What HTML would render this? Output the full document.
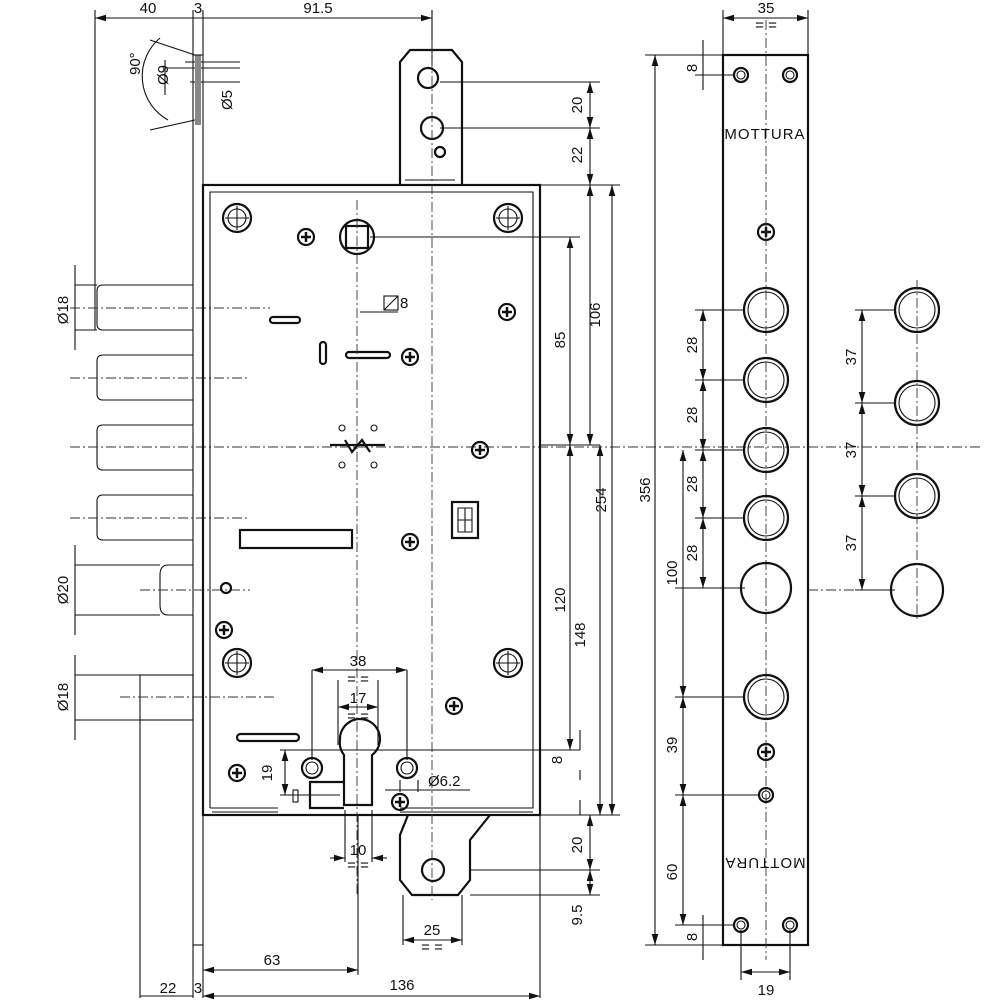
<!DOCTYPE html>
<html><head><meta charset="utf-8"><style>
html,body{margin:0;padding:0;background:#fff}
svg{display:block}
text{font-family:"Liberation Sans",sans-serif;font-size:15px;fill:#111}
.t{stroke:#111;stroke-width:1.1;fill:none}
.k{stroke:#111;stroke-width:2.2;fill:none}
.d{stroke:#333;stroke-width:0.9;fill:none;stroke-dasharray:10 3 2 3}
</style></head><body>
<svg width="1000" height="1000" viewBox="0 0 1000 1000" xmlns="http://www.w3.org/2000/svg">
<defs>
<marker id="a" viewBox="0 0 10 6" refX="10" refY="3" markerWidth="10" markerHeight="6" orient="auto-start-reverse"><path d="M0,0L10,3L0,6z" fill="#111"/></marker>
<g id="scr"><circle r="8" class="k" fill="#fff"/><path d="M-5,0H5M0,-5V5" stroke="#111" stroke-width="2.5"/></g>
<g id="hole"><circle r="14" class="k"/><circle r="9" class="t"/><path d="M-12,0H12M0,-12V12" class="t" stroke-width="0.6"/></g>
<g id="big"><circle r="22" class="k"/><circle r="18" class="t"/></g>
<g id="sm"><circle r="7" class="k"/><circle r="4" class="t"/></g>
</defs>

<!-- top dims -->
<path class="t" d="M95,18H432" marker-start="url(#a)" marker-end="url(#a)"/>
<path class="t" d="M95,10V330M193,10V55M203,10V55M432,10V65"/>
<text x="148" y="13" text-anchor="middle">40</text>
<text x="198" y="13" text-anchor="middle">3</text>
<text x="318" y="13" text-anchor="middle">91.5</text>

<!-- angle detail -->
<path class="t" d="M160,38 A50,50 0 0 0 168,120"/>
<path class="t" d="M195,55 L150,40 M195,120 L150,130 M165,60V95 M165,68H240 M190,82H240 M185,62H240"/>
<text x="140" y="75" transform="rotate(-90 140 75)" font-size="13">90°</text>
<text x="168" y="85" transform="rotate(-90 168 85)" font-size="13">Ø9</text>
<text x="232" y="110" transform="rotate(-90 232 110)" font-size="13">Ø5</text>
<rect x="195" y="55" width="6" height="70" fill="#888"/>

<!-- faceplate -->
<rect x="193" y="55" width="10" height="890" class="t"/>

<!-- bolts -->
<g class="t">
<path d="M193,285H103Q97,285 97,291V324Q97,330 103,330H193"/>
<path d="M193,355H103Q97,355 97,361V394Q97,400 103,400H193"/>
<path d="M193,425H103Q97,425 97,431V464Q97,470 103,470H193"/>
<path d="M193,495H103Q97,495 97,501V534Q97,540 103,540H193"/>
<path d="M193,565H168Q160,565 160,575V605Q160,615 168,615H193"/>
<rect x="140" y="675" width="53" height="45"/>
<path d="M75,285H97M75,330H97M75,565H160M75,615H160M75,675H140M75,720H140"/>
</g>
<path class="d" d="M70,308H270M70,378H250M70,447H980M70,518H250M140,590H250M120,697H275"/>
<path class="t" d="M75,265V350M75,545V635M75,655V740"/>
<text x="68" y="310" transform="rotate(-90 68 310)" text-anchor="middle" font-size="13">Ø18</text>
<text x="68" y="590" transform="rotate(-90 68 590)" text-anchor="middle" font-size="13">Ø20</text>
<text x="68" y="697" transform="rotate(-90 68 697)" text-anchor="middle" font-size="13">Ø18</text>

<!-- lock body -->
<rect x="203" y="185" width="337" height="630" class="k"/>
<path class="t" d="M210,808V192H533V808H400M210,808H278"/>
<path class="t" d="M212,812H278M400,812H533"/>

<!-- top tab -->
<path class="k" d="M400,185V62L410,50H452L462,62V185" fill="#fff"/>
<circle cx="428" cy="78" r="10" class="k"/>
<circle cx="432" cy="128" r="11" class="k"/>
<circle cx="440" cy="152" r="5" class="k"/>
<path class="t" d="M405,180H455"/>
<!-- bottom tab -->
<path class="k" d="M408,815L400,835V880L412,895H458L470,880V840L490,815" fill="#fff"/>
<circle cx="433" cy="870" r="11" class="k"/>

<!-- interior -->
<use href="#hole" x="237" y="218"/><use href="#hole" x="508" y="218"/>
<use href="#hole" x="237" y="663"/><use href="#hole" x="508" y="663"/>
<circle cx="357" cy="237" r="17" class="k"/><rect x="346" y="226" width="22" height="22" class="k" fill="#fff"/>
<use href="#scr" x="306" y="237"/><use href="#scr" x="507" y="312"/><use href="#scr" x="410" y="357"/>
<use href="#scr" x="480" y="450"/><use href="#scr" x="410" y="542"/><use href="#scr" x="224" y="630"/>
<use href="#scr" x="454" y="706"/><use href="#scr" x="237" y="773"/><use href="#scr" x="400" y="802"/>
<use href="#scr" x="766" y="232"/><use href="#scr" x="766" y="752"/>
<rect x="270" y="317" width="30" height="6" rx="3" class="k"/>
<rect x="320" y="342" width="6" height="22" rx="3" class="k"/>
<rect x="346" y="352" width="44" height="6" rx="3" class="k"/>
<path class="k" d="M330,445H385M345,440L352,452L362,440L370,452"/>
<circle cx="342" cy="428" r="3" class="t"/><circle cx="374" cy="428" r="3" class="t"/>
<circle cx="342" cy="465" r="3" class="t"/><circle cx="374" cy="465" r="3" class="t"/>
<rect x="240" y="530" width="112" height="18" class="k"/>
<rect x="452" y="502" width="26" height="36" class="k"/>
<path class="t" d="M458,508h14v24h-14z M465,508V532M458,520H472"/>
<circle cx="226" cy="588" r="5" class="k"/>
<rect x="237" y="734" width="62" height="7" rx="3.5" class="k"/>
<path class="k" d="M340,740A20,20 0 1 1 372,755V805H344V755A20,20 0 0 1 340,740Z" fill="#fff"/>
<path class="k" d="M344,782H310V808H344"/>
<rect x="293" y="790" width="5" height="12" class="t"/>
<circle cx="312" cy="768" r="10" class="k"/><circle cx="312" cy="768" r="6" class="t"/>
<circle cx="407" cy="768" r="10" class="k"/><circle cx="407" cy="768" r="6" class="t"/>
<path class="d" d="M357,200V895M432,40V900"/>

<!-- interior dims -->
<path class="t" d="M338,680V745M378,680V745M312,670V760M407,670V760"/>
<path class="t" d="M312,670H407" marker-start="url(#a)" marker-end="url(#a)"/>
<path class="t" d="M338,707H378" marker-start="url(#a)" marker-end="url(#a)"/>
<text x="358" y="666" text-anchor="middle">38</text>
<text x="358" y="703" text-anchor="middle">17</text>
<text x="358" y="684" text-anchor="middle" font-size="10">= =</text>
<text x="358" y="721" text-anchor="middle" font-size="10">= =</text>
<path class="t" d="M280,750H580M280,795H340"/>
<path class="t" d="M285,750V795" marker-start="url(#a)" marker-end="url(#a)"/>
<text x="272" y="773" transform="rotate(-90 272 773)" text-anchor="middle">19</text>
<path class="t" d="M345,810V862M372,810V862"/>
<path class="t" d="M330,858H345" marker-end="url(#a)"/><path class="t" d="M387,858H372" marker-end="url(#a)"/>
<text x="358" y="855" text-anchor="middle">10</text>
<text x="358" y="870" text-anchor="middle" font-size="10">= =</text>
<path class="t" d="M385,790H470M400,780V792M418,780V792"/>
<text x="428" y="786">Ø6.2</text>
<rect x="384" y="296" width="14" height="14" class="t"/><path class="t" d="M384,310L398,296"/>
<text x="400" y="308">8</text>
<path class="t" d="M360,312H398"/>

<!-- bottom dims -->
<path class="t" d="M403,895V945M462,895V945"/>
<path class="t" d="M403,940H462" marker-start="url(#a)" marker-end="url(#a)"/>
<text x="432" y="935" text-anchor="middle">25</text>
<text x="432" y="952" text-anchor="middle" font-size="10">= =</text>
<path class="t" d="M140,720V998M193,945V998M203,945V998M358,815V975M540,815V998"/>
<path class="t" d="M203,970H358" marker-start="url(#a)" marker-end="url(#a)"/>
<path class="t" d="M203,996H540" marker-start="url(#a)" marker-end="url(#a)"/>
<path class="t" d="M140,996H193"/>
<text x="272" y="965" text-anchor="middle">63</text>
<text x="168" y="993" text-anchor="middle">22</text>
<text x="198" y="993" text-anchor="middle">3</text>
<text x="402" y="990" text-anchor="middle">136</text>

<!-- right-side dims of body -->
<path class="t" d="M440,82H600M440,128H600M462,185H620M370,237H580M540,445H600M540,815H620M470,870H600M470,895H600"/>
<path class="t" d="M590,82V128" marker-start="url(#a)" marker-end="url(#a)"/>
<path class="t" d="M590,128V185" marker-start="url(#a)" marker-end="url(#a)"/>
<path class="t" d="M590,185V445" marker-start="url(#a)" marker-end="url(#a)"/>
<path class="t" d="M570,237V445" marker-start="url(#a)" marker-end="url(#a)"/>
<path class="t" d="M570,445V750" marker-start="url(#a)" marker-end="url(#a)"/>
<path class="t" d="M600,445V815" marker-start="url(#a)" marker-end="url(#a)"/>
<path class="t" d="M612,185V815" marker-start="url(#a)" marker-end="url(#a)"/>
<path class="t" d="M580,730V750M580,770V780M580,800V815" />
<path class="t" d="M590,815V870" marker-start="url(#a)" marker-end="url(#a)"/>
<path class="t" d="M590,870V895" marker-start="url(#a)" marker-end="url(#a)"/>
<text x="582" y="105" transform="rotate(-90 582 105)" text-anchor="middle">20</text>
<text x="582" y="155" transform="rotate(-90 582 155)" text-anchor="middle">22</text>
<text x="600" y="315" transform="rotate(-90 600 315)" text-anchor="middle">106</text>
<text x="565" y="340" transform="rotate(-90 565 340)" text-anchor="middle">85</text>
<text x="565" y="600" transform="rotate(-90 565 600)" text-anchor="middle">120</text>
<text x="585" y="635" transform="rotate(-90 585 635)" text-anchor="middle">148</text>
<text x="606" y="500" transform="rotate(-90 606 500)" text-anchor="middle">254</text>
<text x="562" y="760" transform="rotate(-90 562 760)" text-anchor="middle">8</text>
<text x="582" y="845" transform="rotate(-90 582 845)" text-anchor="middle">20</text>
<text x="582" y="915" transform="rotate(-90 582 915)" text-anchor="middle">9.5</text>
<path class="t" d="M645,55H723M645,945H723"/>
<path class="t" d="M655,55V945" marker-start="url(#a)" marker-end="url(#a)"/>
<text x="650" y="490" transform="rotate(-90 650 490)" text-anchor="middle">356</text>

<!-- right strip -->
<rect x="723" y="55" width="85" height="890" class="k"/>
<path class="d" d="M766,20V960"/>
<path class="t" d="M723,10V55M808,10V55M741,930V980M790,930V980"/>
<path class="t" d="M723,18H808" marker-start="url(#a)" marker-end="url(#a)"/>
<path class="t" d="M741,972H790" marker-start="url(#a)" marker-end="url(#a)"/>
<text x="766" y="13" text-anchor="middle">35</text>
<text x="766" y="30" text-anchor="middle" font-size="10">= =</text>
<text x="766" y="995" text-anchor="middle">19</text>
<use href="#sm" x="741" y="75"/><use href="#sm" x="790" y="75"/>
<use href="#sm" x="741" y="925"/><use href="#sm" x="790" y="925"/>
<use href="#sm" x="766" y="795"/>
<text x="765" y="139" text-anchor="middle" font-size="12" letter-spacing="1">MOTTURA</text>
<text x="765" y="866" text-anchor="middle" font-size="12" letter-spacing="1" transform="rotate(180 765 862)">MOTTURA</text>
<use href="#big" x="766" y="310"/><use href="#big" x="766" y="380"/>
<use href="#big" x="766" y="450"/><use href="#big" x="766" y="518"/>
<circle cx="766" cy="588" r="25" class="k"/>
<use href="#big" x="766" y="697"/>
<path class="t" d="M695,310H745M695,380H745M695,450H745M695,518H745M675,588H745M675,697H745M675,795H760M675,925H735M695,945H723M695,55H723M695,75H735"/>
<path class="t" d="M703,310V380" marker-start="url(#a)" marker-end="url(#a)"/>
<path class="t" d="M703,380V450" marker-start="url(#a)" marker-end="url(#a)"/>
<path class="t" d="M703,450V518" marker-start="url(#a)" marker-end="url(#a)"/>
<path class="t" d="M703,518V588" marker-start="url(#a)" marker-end="url(#a)"/>
<path class="t" d="M683,450V697" marker-start="url(#a)" marker-end="url(#a)"/>
<path class="t" d="M683,697V795" marker-start="url(#a)" marker-end="url(#a)"/>
<path class="t" d="M683,795V925" marker-start="url(#a)" marker-end="url(#a)"/>
<path class="t" d="M703,40V90M703,915V960"/>
<text x="697" y="345" transform="rotate(-90 697 345)" text-anchor="middle">28</text>
<text x="697" y="415" transform="rotate(-90 697 415)" text-anchor="middle">28</text>
<text x="697" y="484" transform="rotate(-90 697 484)" text-anchor="middle">28</text>
<text x="697" y="553" transform="rotate(-90 697 553)" text-anchor="middle">28</text>
<text x="677" y="573" transform="rotate(-90 677 573)" text-anchor="middle">100</text>
<text x="677" y="745" transform="rotate(-90 677 745)" text-anchor="middle">39</text>
<text x="677" y="872" transform="rotate(-90 677 872)" text-anchor="middle">60</text>
<text x="697" y="68" transform="rotate(-90 697 68)" text-anchor="middle">8</text>
<text x="697" y="937" transform="rotate(-90 697 937)" text-anchor="middle">8</text>

<!-- far right circles -->
<use href="#big" x="917" y="310"/><use href="#big" x="917" y="403"/>
<use href="#big" x="917" y="496"/>
<circle cx="917" cy="590" r="26" class="k"/>
<path class="d" d="M917,280V620M808,590H895"/>
<path class="t" d="M855,310H895M855,403H895M855,496H895M855,590H895"/>
<path class="t" d="M862,310V403" marker-start="url(#a)" marker-end="url(#a)"/>
<path class="t" d="M862,403V496" marker-start="url(#a)" marker-end="url(#a)"/>
<path class="t" d="M862,496V590" marker-start="url(#a)" marker-end="url(#a)"/>
<text x="856" y="357" transform="rotate(-90 856 357)" text-anchor="middle">37</text>
<text x="856" y="450" transform="rotate(-90 856 450)" text-anchor="middle">37</text>
<text x="856" y="543" transform="rotate(-90 856 543)" text-anchor="middle">37</text>
</svg>
</body></html>
